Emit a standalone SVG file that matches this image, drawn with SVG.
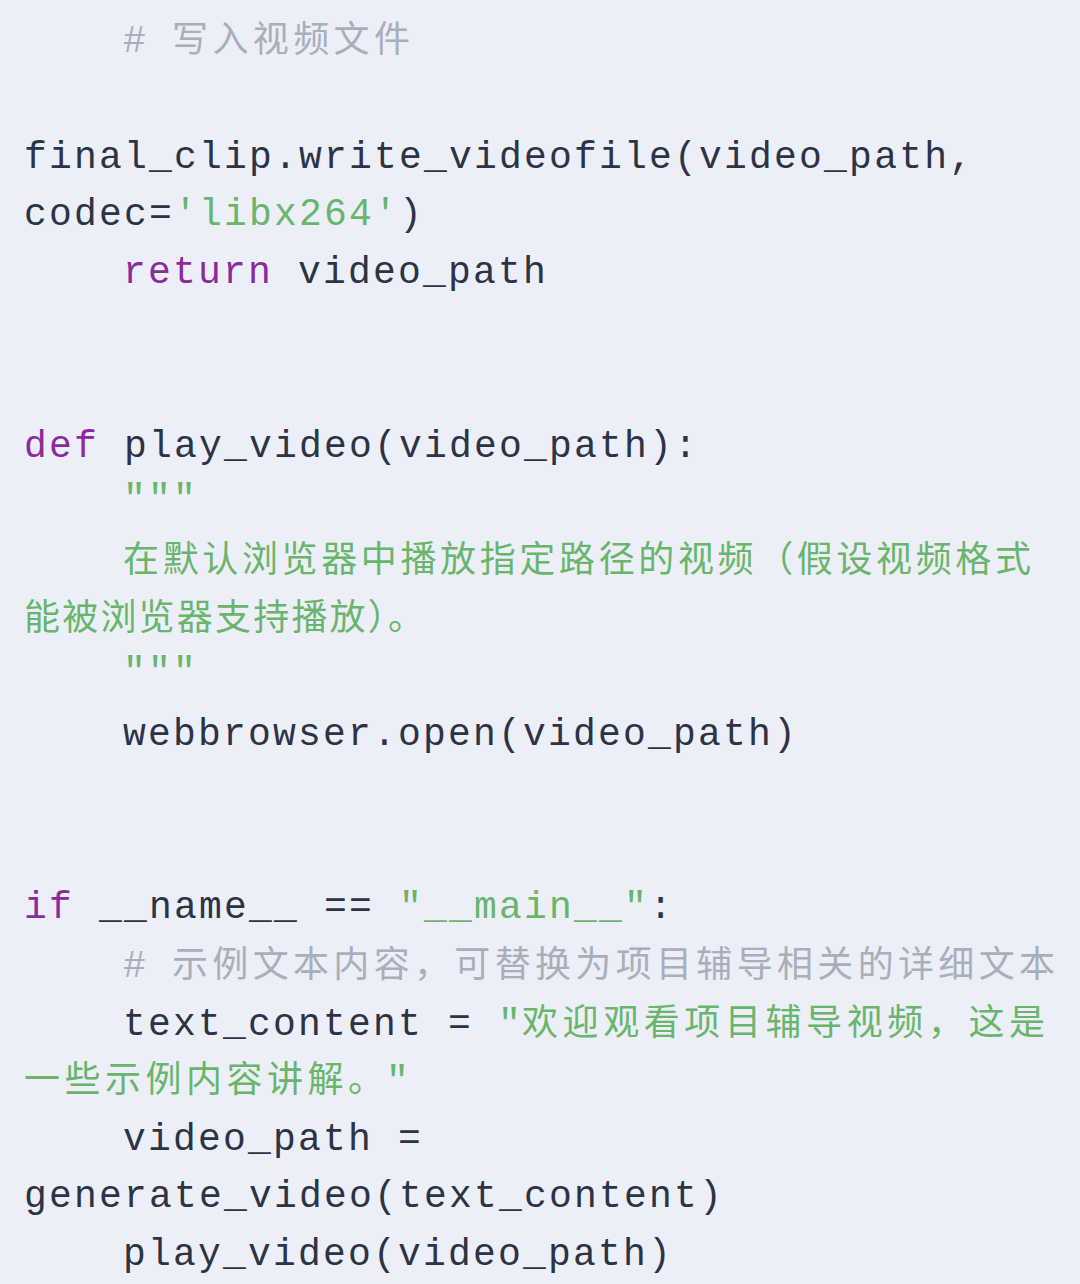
<svg xmlns="http://www.w3.org/2000/svg" width="1080" height="1284" viewBox="0 0 1080 1284">
<style>
.m{font-family:"Liberation Mono","DejaVu Sans Mono",monospace;font-size:38px;letter-spacing:2.2px;fill:#2c3345}
.k{fill:#8b2a9c}.s{fill:#68b56b}.c{fill:#a9aeba}
.z{font-family:"Noto Sans CJK SC",sans-serif;font-size:36px}
</style>
<rect width="1080" height="1284" fill="#eceff8"/>
<g id="code">
<text class="m c" x="123" y="52">#</text><text class="z c" x="172" y="52" textLength="238" lengthAdjust="spacing">写入视频文件</text>
<text class="m" x="24" y="168">final_clip.write_videofile(video_path,</text>
<text class="m" x="24" y="225">codec=<tspan class="s">'libx264'</tspan>)</text>
<text class="m" x="123" y="283"><tspan class="k">return</tspan> video_path</text>
<text class="m" x="24" y="457"><tspan class="k">def</tspan> play_video(video_path):</text>
<text class="m s" x="123" y="510">"""</text>
<text class="z s" x="123" y="572" textLength="908" lengthAdjust="spacing">在默认浏览器中播放指定路径的视频（假设视频格式</text>
<text class="z s" x="24" y="630" textLength="400" lengthAdjust="spacing">能被浏览器支持播放）。</text>
<text class="m s" x="123" y="683">"""</text>
<text class="m" x="123" y="745">webbrowser.open(video_path)</text>
<text class="m" x="24" y="918"><tspan class="k">if</tspan> __name__ == <tspan class="s">"__main__"</tspan>:</text>
<text class="m c" x="123" y="977">#</text><text class="z c" x="172" y="977" textLength="883" lengthAdjust="spacing">示例文本内容，可替换为项目辅导相关的详细文本</text>
<text class="m" x="123" y="1035">text_content = <tspan class="s">"</tspan></text><text class="z s" x="522" y="1035" textLength="523" lengthAdjust="spacing">欢迎观看项目辅导视频，这是</text>
<text class="z s" x="24" y="1092" textLength="360" lengthAdjust="spacing">一些示例内容讲解。</text><text class="m s" x="386" y="1092">"</text>
<text class="m" x="123" y="1150">video_path =</text>
<text class="m" x="24" y="1207">generate_video(text_content)</text>
<text class="m" x="123" y="1265">play_video(video_path)</text>
</g>
</svg>
